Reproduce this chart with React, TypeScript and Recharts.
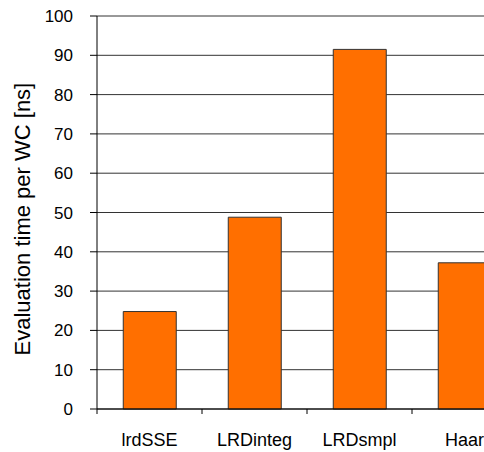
import React from 'react';
import { BarChart, Bar, XAxis, YAxis, CartesianGrid, Label } from 'recharts';

const categories = ['lrdSSE', 'LRDinteg', 'LRDsmpl', 'Haar'];
const evalTimes = [24.8, 48.8, 91.5, 37.2];
const yTicks = [0, 10, 20, 30, 40, 50, 60, 70, 80, 90, 100];
const yAxisTitle = 'Evaluation time per WC [ns]';

const data = categories.map((c, i) => ({ name: c, value: evalTimes[i] }));

const FONT = '"Liberation Sans", Arial, sans-serif';

const CategoryTick = (props: any) => {
  const { x, y, payload } = props;
  const half = payload && typeof payload.offset === 'number' && payload.offset > 0 ? payload.offset : 52.5;
  return (
    <g>
      <line x1={x - half} x2={x - half} y1={y} y2={y + 5} stroke="#000" strokeWidth={1} />
      <text x={x} y={y + 37} textAnchor="middle" fontSize={18} fill="#000" fontFamily={FONT}>
        {payload.value}
      </text>
    </g>
  );
};

const renderYLabel = (props: any) => {
  const vb = props.viewBox || { x: 0, y: 0, width: 0, height: 0 };
  const cx = vb.x + 22;
  const cy = vb.y + vb.height / 2 + 6.6;
  return (
    <text
      x={cx}
      y={cy}
      textAnchor="middle"
      fontSize={22}
      fill="#000"
      fontFamily={FONT}
      transform={`rotate(-90, ${cx}, ${cy})`}
    >
      {yAxisTitle}
    </text>
  );
};

export default function App() {
  return (
    <div style={{ position: 'absolute', left: 8, top: 8, width: 476, height: 444, overflow: 'hidden' }}>
      <BarChart
        width={520}
        height={444}
        data={data}
        margin={{ top: 8, right: 11, bottom: 0, left: 0 }}
        barCategoryGap="25%"
      >
        <CartesianGrid vertical={false} stroke="#333" strokeWidth={1} />
        <XAxis
          dataKey="name"
          type="category"
          interval={0}
          tickSize={0}
          tickMargin={0}
          tickLine={false}
          axisLine={{ stroke: '#000' }}
          tick={<CategoryTick />}
          height={43}
        />
        <YAxis
          domain={[0, 100]}
          ticks={yTicks}
          interval={0}
          width={89}
          tickSize={7}
          tickMargin={17}
          axisLine={{ stroke: '#000' }}
          tickLine={{ stroke: '#000' }}
          tick={{ fontSize: 17, fill: '#000', fontFamily: FONT }}
        >
          <Label content={renderYLabel} />
        </YAxis>
        <Bar
          dataKey="value"
          fill="#ff6f00"
          stroke="#333"
          strokeWidth={1}
          isAnimationActive={false}
        />
      </BarChart>
    </div>
  );
}
